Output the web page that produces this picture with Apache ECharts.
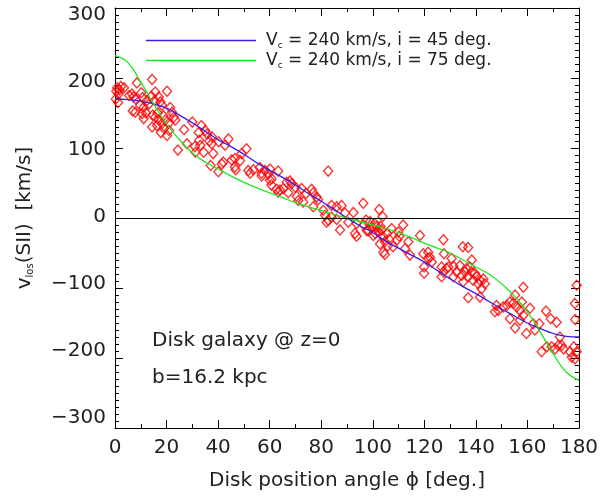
<!DOCTYPE html>
<html>
<head>
<meta charset="utf-8">
<script src="https://cdn.jsdelivr.net/npm/echarts@6/dist/echarts.min.js"></script>
<style>html,body{margin:0;padding:0;background:#fff}#c{width:603px;height:500px}</style>
</head>
<body>
<div id="c"></div>
<script>
// ---- data ----
const xTicks = [0, 20, 40, 60, 80, 100, 120, 140, 160, 180];
const yTicks = [-300, -200, -100, 0, 100, 200, 300];

// model curves (phi in deg, v in km/s), read every 5 degrees
const curvePhi = [0,5,10,15,20,25,30,35,40,45,50,55,60,65,70,75,80,85,90,95,100,105,110,115,120,125,130,135,140,145,150,155,160,165,170,175,180];
const blueV = [170,169,167,163,157,147,136,124,112,102,91,79,68,58,47,35,24,12,0,-11,-21,-33,-43,-53,-63,-75,-87,-98,-108,-119,-130,-140,-150,-158,-165,-169,-170];
const greenV = [232,222,194,163,134,112,93,80,70,60,51,43,36,29,22,16,11,5,0,-5,-10,-15,-21,-28,-36,-43,-50,-60,-70,-80,-94,-112,-134,-163,-194,-220,-232];

// measured points: [phi, v]
const pointsSII = [
[0.3,170],[0.5,181],[0.8,186],[1.2,165],[1.4,177],[1.8,183],[2.3,188],[3.5,186],[5.5,175],[6.6,177],[6.9,153],[7.2,173],[7.9,151],[8,170],[8.5,193],[9.8,161],[10.2,179],[10.5,149],[10.7,172],[11.1,142],[11.1,158],[12,150],[12.4,168],[13,162],[14.1,174],[14.4,198],[14.4,130],[14.6,147],[15.4,168],[15.6,180],[15.6,144],[16.3,132],[16.5,150],[17,173],[17,140],[17.6,166],[17.8,122],[18.2,161],[18.2,135],[18.8,146],[19,128],[19.5,140],[20.2,181],[20.2,118],[20.8,135],[21,125],[21.4,158],[22.1,151],[22.8,144],[23.4,140],[24.4,97],
[26.8,126],[27.9,106],[30,137],[31,102],[31.2,94],[32.5,122],[32.7,111],[33.1,104],[33.5,132],[34.4,94],[35,125],[35.7,120],[36.6,110],[37.5,106],[37.6,116],[37.1,75],[38.1,92],[40.1,66],[40.2,109],[41.4,77],[42,80],[42.7,104],[44,113],
[45.3,83],[46.5,85],[46.5,73],[46.8,69],[48.5,82],[49.1,92],[51,99],[51.7,68],[52.4,64],[53.7,69],[56.2,72],[56.9,64],[56.9,60],[58.2,68],[59.5,63],[60.1,70],[60.1,54],[60.7,47],[60.8,56],[62.7,41],[63.3,37],[63.3,67],[64,40],[65.3,42],[66.6,51],[67.2,36],
[67.9,53],[68.5,49],[70,44],[70.5,31],[71.1,25],[72.4,42],[73,23],[74.1,35],[76.3,41],[76.9,36],[76.9,16],[78.2,30],[78.8,26],[80.8,11],[81.5,4],[82.1,-6],[82.7,-3],[82.7,67],[84,18],[84,1],[86,16],[86,-2],[87.3,-17],[87.9,18],[89.2,7],[90.5,-6],[92.5,8],[93.1,-22],[93.7,-8],[93.7,-26],[96.3,21],[96.5,-10],[97.7,-18],
[97.4,-3],[98.3,-18],[99,-5],[99.6,-13],[100.2,-25],[100.8,-8],[101,-22],[101.5,-13],[102.1,-19],[102.5,12],[102.8,-37],[103,-12],[103.4,-17],[103.8,2],[104.1,-27],[104.1,-49],[104.7,-34],[104.7,-52],[105.5,-22],[105.8,-40],[106.3,-30],[107.3,-15],[107.9,-41],[109.5,-31],[109.9,-20],[110.3,-26],[111.8,-10],[112.5,-44],[113.8,-34],[114.4,-53],[118.3,-25],[119.6,-51],[121.5,-49],[121.5,-58],[122.2,-56],[122.9,-63],[119.9,-70],[119.9,-79],[126.7,-84],[126.7,-70],[127.4,-31],[127.6,-51],[128.6,-72],
[127.4,-77],[129.3,-70],[130.6,-58],[131.3,-69],[131.3,-84],[132.5,-77],[133.8,-68],[134.5,-82],[134.9,-41],[135.1,-91],[135.8,-77],[136.4,-72],[137,-42],[137,-84],[137,-114],[137.7,-70],[138.3,-77],[138.4,-60],[138.9,-89],[139.6,-79],[140.3,-84],[140.9,-94],[141.6,-89],[141.6,-113],[142.2,-101],[142.9,-87],[143.5,-94],
[147.4,-134],[148,-125],[148.7,-132],[150.6,-127],[152,-125],[153.2,-120],[153.2,-144],[154.5,-122],[155.2,-110],[155.2,-157],[155.8,-127],[157.1,-132],[157.1,-146],[157.8,-120],[158.4,-99],[158.4,-139],[159.6,-165],[161,-129],[162.2,-151],[162.9,-160],[164.6,-151],[165.5,-191],[167.2,-133],[167.5,-184],[169,-144],[169.4,-184],[170.7,-187],[171.3,-149],[172,-182],[172.6,-170],[173.3,-182],[174,-187],[176.5,-191],[177.2,-199],[178,-184],[178.4,-201],[178.4,-122],[178.5,-145],[179.1,-191],[179.1,-96]
];

const blueName = 'i45';
const greenName = 'i75';
const blueLabel = '{a|V}{s|c}{a| = 240 km/s, i = 45 deg.}';
const greenLabel = '{a|V}{s|c}{a| = 240 km/s, i = 75 deg.}';

// ---- chart ----
const FONT = 'DejaVu Sans';
const TXT = '#222';
const chart = echarts.init(document.getElementById('c'), null, {renderer: 'canvas'});
const zip = (xs, ys) => xs.map((x, k) => [x, ys[k]]);
const fmtY = v => String(v).replace('-', '\u2212');

const commonX = {
  type: 'value', min: 0, max: 180, interval: 20,
  axisLine: {show: true, onZero: false, lineStyle: {color: '#000', width: 1}},
  axisTick: {show: true, inside: true, length: 8, lineStyle: {color: '#000'}},
  minorTick: {show: true, splitNumber: 2, length: 4, lineStyle: {color: '#000'}},
  splitLine: {show: false}, minorSplitLine: {show: false}
};
const commonY = {
  type: 'value', min: -300, max: 300, interval: 100,
  axisLine: {show: true, onZero: false, lineStyle: {color: '#000', width: 1}},
  axisTick: {show: true, inside: true, length: 8, lineStyle: {color: '#000'}},
  minorTick: {show: true, splitNumber: 10, length: 4, lineStyle: {color: '#000'}},
  splitLine: {show: false}, minorSplitLine: {show: false},
  axisLabel: {show: false}
};

chart.setOption({
  animation: false,
  backgroundColor: '#fff',
  textStyle: {fontFamily: FONT},
  grid: {left: 115, right: 24, top: 8, bottom: 72, containLabel: false},
  xAxis: [
    Object.assign({}, commonX, {
      position: 'bottom',
      axisLabel: {show: true, fontSize: 20, color: TXT, margin: 10, fontFamily: FONT},
      name: 'Disk position angle \u03d5 [deg.]', nameLocation: 'middle', nameGap: 43,
      nameTextStyle: {fontSize: 20, color: TXT, fontFamily: FONT}
    }),
    Object.assign({}, commonX, {position: 'top', axisLabel: {show: false}})
  ],
  yAxis: [
    Object.assign({}, commonY, {
      position: 'left',
      name: '{a|v}{s|los}{a|(SII)  [km/s]}', nameLocation: 'middle', nameGap: 80, nameRotate: 90,
      nameTextStyle: {color: TXT, fontFamily: FONT,
        rich: {a: {fontSize: 20, color: TXT, fontFamily: FONT}, s: {fontSize: 10, color: TXT, fontFamily: FONT, verticalAlign: 'bottom', padding: [8,0,0,0]}}}
    }),
    Object.assign({}, commonY, {position: 'right'}),
    {
      // label-only axis: the reference's tick labels sit slightly inside the tick marks
      type: 'value', position: 'left', min: -314.9, max: 310.4,
      axisLine: {show: false},
      axisTick: {show: false, length: 0, lineStyle: {color: 'rgba(0,0,0,0)', width: 0}},
      minorTick: {show: false}, splitLine: {show: false},
      axisLabel: {show: true, fontSize: 20, color: TXT, margin: 9, fontFamily: FONT, formatter: fmtY,
        customValues: yTicks, showMinLabel: true, showMaxLabel: true}
    }
  ],
  legend: {
    show: true, orient: 'vertical', left: 146, top: 32, padding: 0,
    icon: 'rect', itemWidth: 110, itemHeight: 1.5, itemGap: 2,
    data: [blueName, greenName],
    formatter: n => (n === blueName ? blueLabel : greenLabel),
    textStyle: {color: TXT, fontFamily: FONT, padding: [0,0,0,5],
      rich: {a: {fontSize: 17, color: TXT, fontFamily: FONT, lineHeight: 19}, s: {fontSize: 9, color: TXT, fontFamily: FONT, verticalAlign: 'bottom', padding: [6,0,0,0]}}}
  },
  series: [
    {
      name: 'points', type: 'scatter', data: pointsSII,
      symbol: 'diamond', symbolSize: [9, 10],
      itemStyle: {color: 'rgba(0,0,0,0)', borderColor: '#ff0000', borderWidth: 1.4},
      xAxisIndex: 0, yAxisIndex: 0, z: 3,
      markLine: {silent: true, symbol: 'none', label: {show: false},
        lineStyle: {color: '#000', width: 1.2, type: 'solid'},
        data: [{yAxis: 0}]}
    },
    {
      name: blueName, type: 'line', data: zip(curvePhi, blueV), smooth: true,
      symbol: 'none', showSymbol: false, lineStyle: {color: '#3b1fe8', width: 1.3}, itemStyle: {color: '#3b1fe8'}, z: 4
    },
    {
      name: greenName, type: 'line', data: zip(curvePhi, greenV), smooth: true,
      symbol: 'none', showSymbol: false, lineStyle: {color: '#22e622', width: 1.3}, itemStyle: {color: '#22e622'}, z: 4
    }
  ],
  graphic: [
    {type: 'text', left: 152, top: 331, style: {text: 'Disk galaxy @ z=0', font: '20px "DejaVu Sans"', fill: TXT}},
    {type: 'text', left: 152, top: 368, style: {text: 'b=16.2 kpc', font: '20px "DejaVu Sans"', fill: TXT}}
  ]
});
</script>
</body>
</html>
